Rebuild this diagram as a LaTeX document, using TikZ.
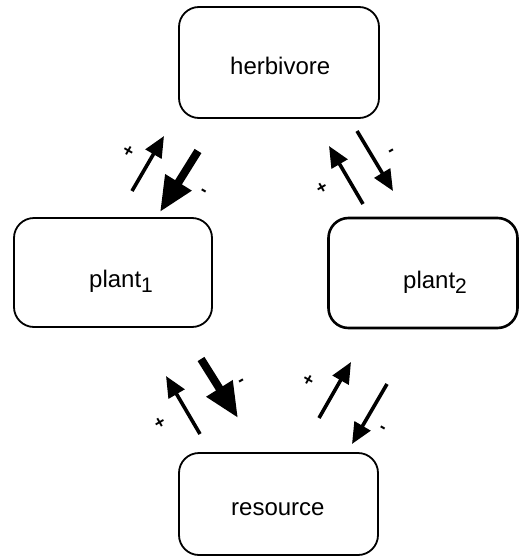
\documentclass[tikz,border=0pt]{standalone}
\usepackage{fontspec}
\setmainfont{Liberation Sans}
\usetikzlibrary{arrows.meta}
\tikzset{
  box/.style={draw, line width=1.8pt, rounded corners=20pt, inner sep=0pt},
  boxtext/.style={font=\fontsize{24}{26}\selectfont, inner sep=0pt, anchor=base west},
  thinarrow/.style={line width=3.6pt, -{Triangle[length=21pt,width=18pt]}},
  thickarrow/.style={line width=8pt, -{Triangle[length=35pt,width=29pt]}},
  sign/.style={font=\fontsize{18}{18}\bfseries, inner sep=0pt},
}
\newcommand{\sub}[1]{\raisebox{-5pt}{\fontsize{21}{21}\selectfont #1}}
\begin{document}
\begin{tikzpicture}[x=1pt, y=-1pt]
      \useasboundingbox (0,0) rectangle (520,557);
      %
      \node[box, minimum width=200pt, minimum height=111pt] (herb) at (279,62.5) {};
      \node[boxtext] (herbtext) at (230,74) {herbivore};
      %
      \node[box, minimum width=198pt, minimum height=109pt] (plantA) at (113,272.5) {};
      \node[boxtext] (plantAtext) at (89,287) {plant\sub{1}};
      %
      \node[box, line width=2.6pt, minimum width=189pt, minimum height=110pt] (plantB) at (423,273) {};
      \node[boxtext] (plantBtext) at (403,288) {plant\sub{2}};
      %
      \node[box, minimum width=199pt, minimum height=102pt] (res) at (278.5,504) {};
      \node[boxtext] (restext) at (231,515) {resource};
      %
      % herbivore <-> plant 1
      \coordinate (a1s) at (132,191); \coordinate (a1e) at (164,136);
      \coordinate (a2s) at (198,151); \coordinate (a2e) at (160,212);
      \draw[thinarrow] (a1s) -- (a1e);
      \draw[thickarrow] (a2s) -- (a2e);
      \node[sign, rotate=-30] (p1) at (128,152) {+};
      \node[sign, rotate=-30] (m1) at (203,193) {-};
      %
      % herbivore <-> plant 2
      \coordinate (b1s) at (363,204); \coordinate (b1e) at (329,146);
      \coordinate (b2s) at (357,131); \coordinate (b2e) at (393,191);
      \draw[thinarrow] (b1s) -- (b1e);
      \draw[thinarrow] (b2s) -- (b2e);
      \node[sign, rotate=30] (p2) at (322,188) {+};
      \node[sign, rotate=30] (m2) at (392,153) {-};
      %
      % plant 1 <-> resource
      \coordinate (c1s) at (200,434); \coordinate (c1e) at (166,376);
      \coordinate (c2s) at (201,359); \coordinate (c2e) at (238,418);
      \draw[thinarrow] (c1s) -- (c1e);
      \draw[thickarrow] (c2s) -- (c2e);
      \node[sign, rotate=30] (p3) at (160,423) {+};
      \node[sign, rotate=30] (m3) at (242,383) {-};
      %
      % plant 2 <-> resource
      \coordinate (d1s) at (319,418); \coordinate (d1e) at (351,362);
      \coordinate (d2s) at (387,384); \coordinate (d2e) at (352,444);
      \draw[thinarrow] (d1s) -- (d1e);
      \draw[thinarrow] (d2s) -- (d2e);
      \node[sign, rotate=-30] (p4) at (308,381) {+};
      \node[sign, rotate=-30] (m4) at (382,430) {-};
      %
\end{tikzpicture}
\end{document}
